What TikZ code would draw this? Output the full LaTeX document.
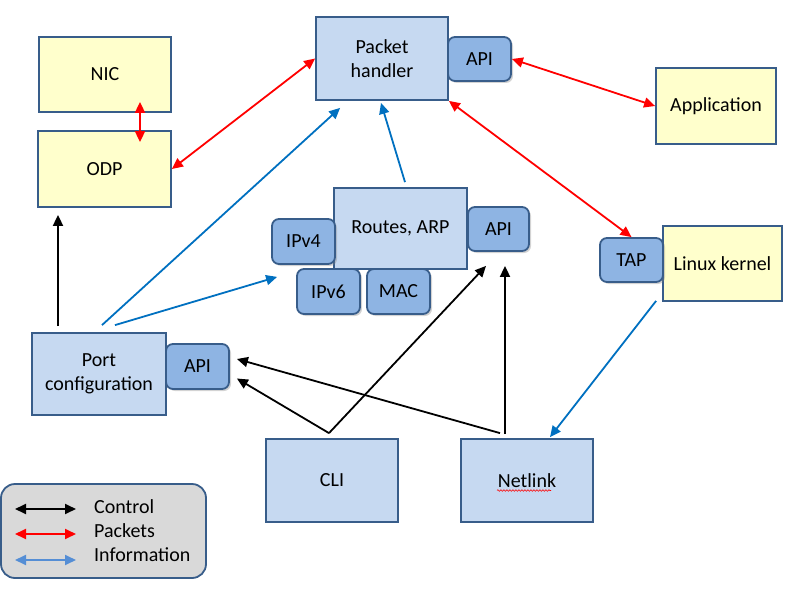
\documentclass[tikz,border=0pt]{standalone}
\usepackage{fontspec}
\setmainfont{Carlito}
\usetikzlibrary{calc,arrows.meta,shadows,decorations.pathmorphing}
\definecolor{bord}{HTML}{385D8A}
\definecolor{lblue}{HTML}{C6D9F1}
\definecolor{dblue}{HTML}{8EB4E3}
\definecolor{lyel}{HTML}{FFFFCC}
\definecolor{iblue}{HTML}{0070C0}
\definecolor{legblue}{HTML}{558ED5}
\definecolor{leggray}{HTML}{D9D9D9}
\tikzset{
  base/.style={draw=bord,line width=1.8pt,inner sep=1pt,align=center,
    font=\fontsize{20}{24}\selectfont},
  bluebox/.style={base,fill=lblue},
  yelbox/.style={base,fill=lyel},
  apibox/.style={base,fill=dblue,rounded corners=7pt,minimum width=63pt,minimum height=44pt,
    drop shadow={shadow xshift=2pt,shadow yshift=-2pt,opacity=0.35}},
  redarrow/.style={draw=red,line width=1.8pt,{Triangle[length=11pt,width=10pt]}-{Triangle[length=11pt,width=10pt]}},
  bluearrow/.style={draw=iblue,line width=1.8pt,-{Triangle[length=11pt,width=10pt]}},
  blackarrow/.style={draw=black,line width=1.8pt,-{Triangle[length=11pt,width=10pt]}},
  legtext/.style={anchor=west,inner sep=0pt,font=\fontsize{20}{24}\selectfont},
}
\begin{document}
\begin{tikzpicture}[x=1pt,y=-1pt]
\useasboundingbox (0,0) rectangle (795,591);
% main boxes
\node[yelbox,minimum width=132pt,minimum height=75pt] (nic) at (105,74.5) {NIC};
\node[yelbox,minimum width=133pt,minimum height=76pt] (odp) at (104.5,169) {ODP};
\node[bluebox,minimum width=132pt,minimum height=83pt] (ph) at (382,58.5) {Packet\\handler};
\node[yelbox,minimum width=120pt,minimum height=76pt] (app) at (716,106) {Application};
\node[bluebox,minimum width=133pt,minimum height=81pt] (routes) at (400.5,228.5) {Routes, ARP};
\node[yelbox,minimum width=119pt,minimum height=75pt] (linux) at (722.5,263.5) {Linux kernel};
\node[bluebox,minimum width=134pt,minimum height=82pt] (port) at (99,374) {Port\\configuration};
\node[bluebox,minimum width=132pt,minimum height=83pt] (cli) at (332,480.5) {CLI};
\node[bluebox,minimum width=132pt,minimum height=83pt] (netlink) at (527,480.5) {Netlink};
% API-like boxes
\node[apibox] (api1) at (479.5,59) {API};
\node[apibox,minimum width=61pt] (api2) at (498.5,229) {API};
\node[apibox,minimum height=45pt] (ipv4) at (303.5,241.5) {IPv4};
\node[apibox,minimum height=45pt] (ipv6) at (328.5,291.5) {IPv6};
\node[apibox,minimum height=45pt] (mac) at (398.5,291.5) {MAC};
\node[apibox] (tap) at (631.5,260) {TAP};
\node[apibox,minimum height=45pt] (api3) at (197.5,366.5) {API};
% spell-check squiggle under Netlink
\draw[red,line width=0.6pt,decorate,decoration={snake,amplitude=0.8pt,segment length=3pt}]
  ($(netlink.center)+(-30,10)$) -- ($(netlink.center)+(24,10)$);
% packets (red)
\draw[redarrow] ($(nic.south)+(35,-11)$) -- ($(odp.north)+(35.5,12)$);
\draw[redarrow] (odp.east) -- (ph.west);
\draw[redarrow] (api1.east) -- (app.west);
\draw[redarrow] (ph.south east) -- (tap.north);
% information (blue)
\draw[bluearrow] ($(routes.north)+(4.5,-5)$) -- ($(ph.south)+(-1,2)$);
\draw[bluearrow] ($(port.north)+(3,-7)$) -- ($(ph.south west)+(25,7)$);
\draw[bluearrow] ($(port.north)+(16,-7)$) -- ($(ipv4.south west)+(6,12)$);
\draw[bluearrow] ($(linux.south west)+(-6,-1)$) -- ($(netlink.north)+(23,-1)$);
% control (black)
\draw[blackarrow] ($(port.north)+(-41,-6)$) -- ($(odp.south)+(-46.5,7)$);
\coordinate (clitop) at ($(cli.north)+(-3,-5)$);
\draw[blackarrow] (clitop) -- ($(api3.east)+(7,12)$);
\draw[blackarrow] (clitop) -- ($(api2.south)+(-12.5,14)$);
\draw[blackarrow] ($(netlink.north)+(-27,-5)$) -- ($(api3.east)+(7,-7.5)$);
\draw[blackarrow] ($(netlink.north)+(-22,-4)$) -- ($(api2.south)+(6.5,14)$);
% legend
\node[draw=bord,fill=leggray,line width=1.8pt,rounded corners=14pt,
  minimum width=205pt,minimum height=94pt] (legend) at (103.5,531) {};
\coordinate (l1a) at (15,509); \coordinate (l1b) at (76,509);
\coordinate (l2a) at (15,534); \coordinate (l2b) at (76,534);
\coordinate (l3a) at (15,560); \coordinate (l3b) at (76,560);
\draw[line width=1.8pt,black,{Triangle[length=11pt,width=10pt]}-{Triangle[length=11pt,width=10pt]}] (l1a) -- (l1b);
\draw[line width=1.8pt,red,{Triangle[length=11pt,width=10pt]}-{Triangle[length=11pt,width=10pt]}] (l2a) -- (l2b);
\draw[line width=1.8pt,legblue,{Triangle[length=11pt,width=10pt]}-{Triangle[length=11pt,width=10pt]}] (l3a) -- (l3b);
\node[legtext] (t1) at (94,507) {Control};
\node[legtext] (t2) at (94,531) {Packets};
\node[legtext] (t3) at (94,555) {Information};
\end{tikzpicture}
\end{document}
